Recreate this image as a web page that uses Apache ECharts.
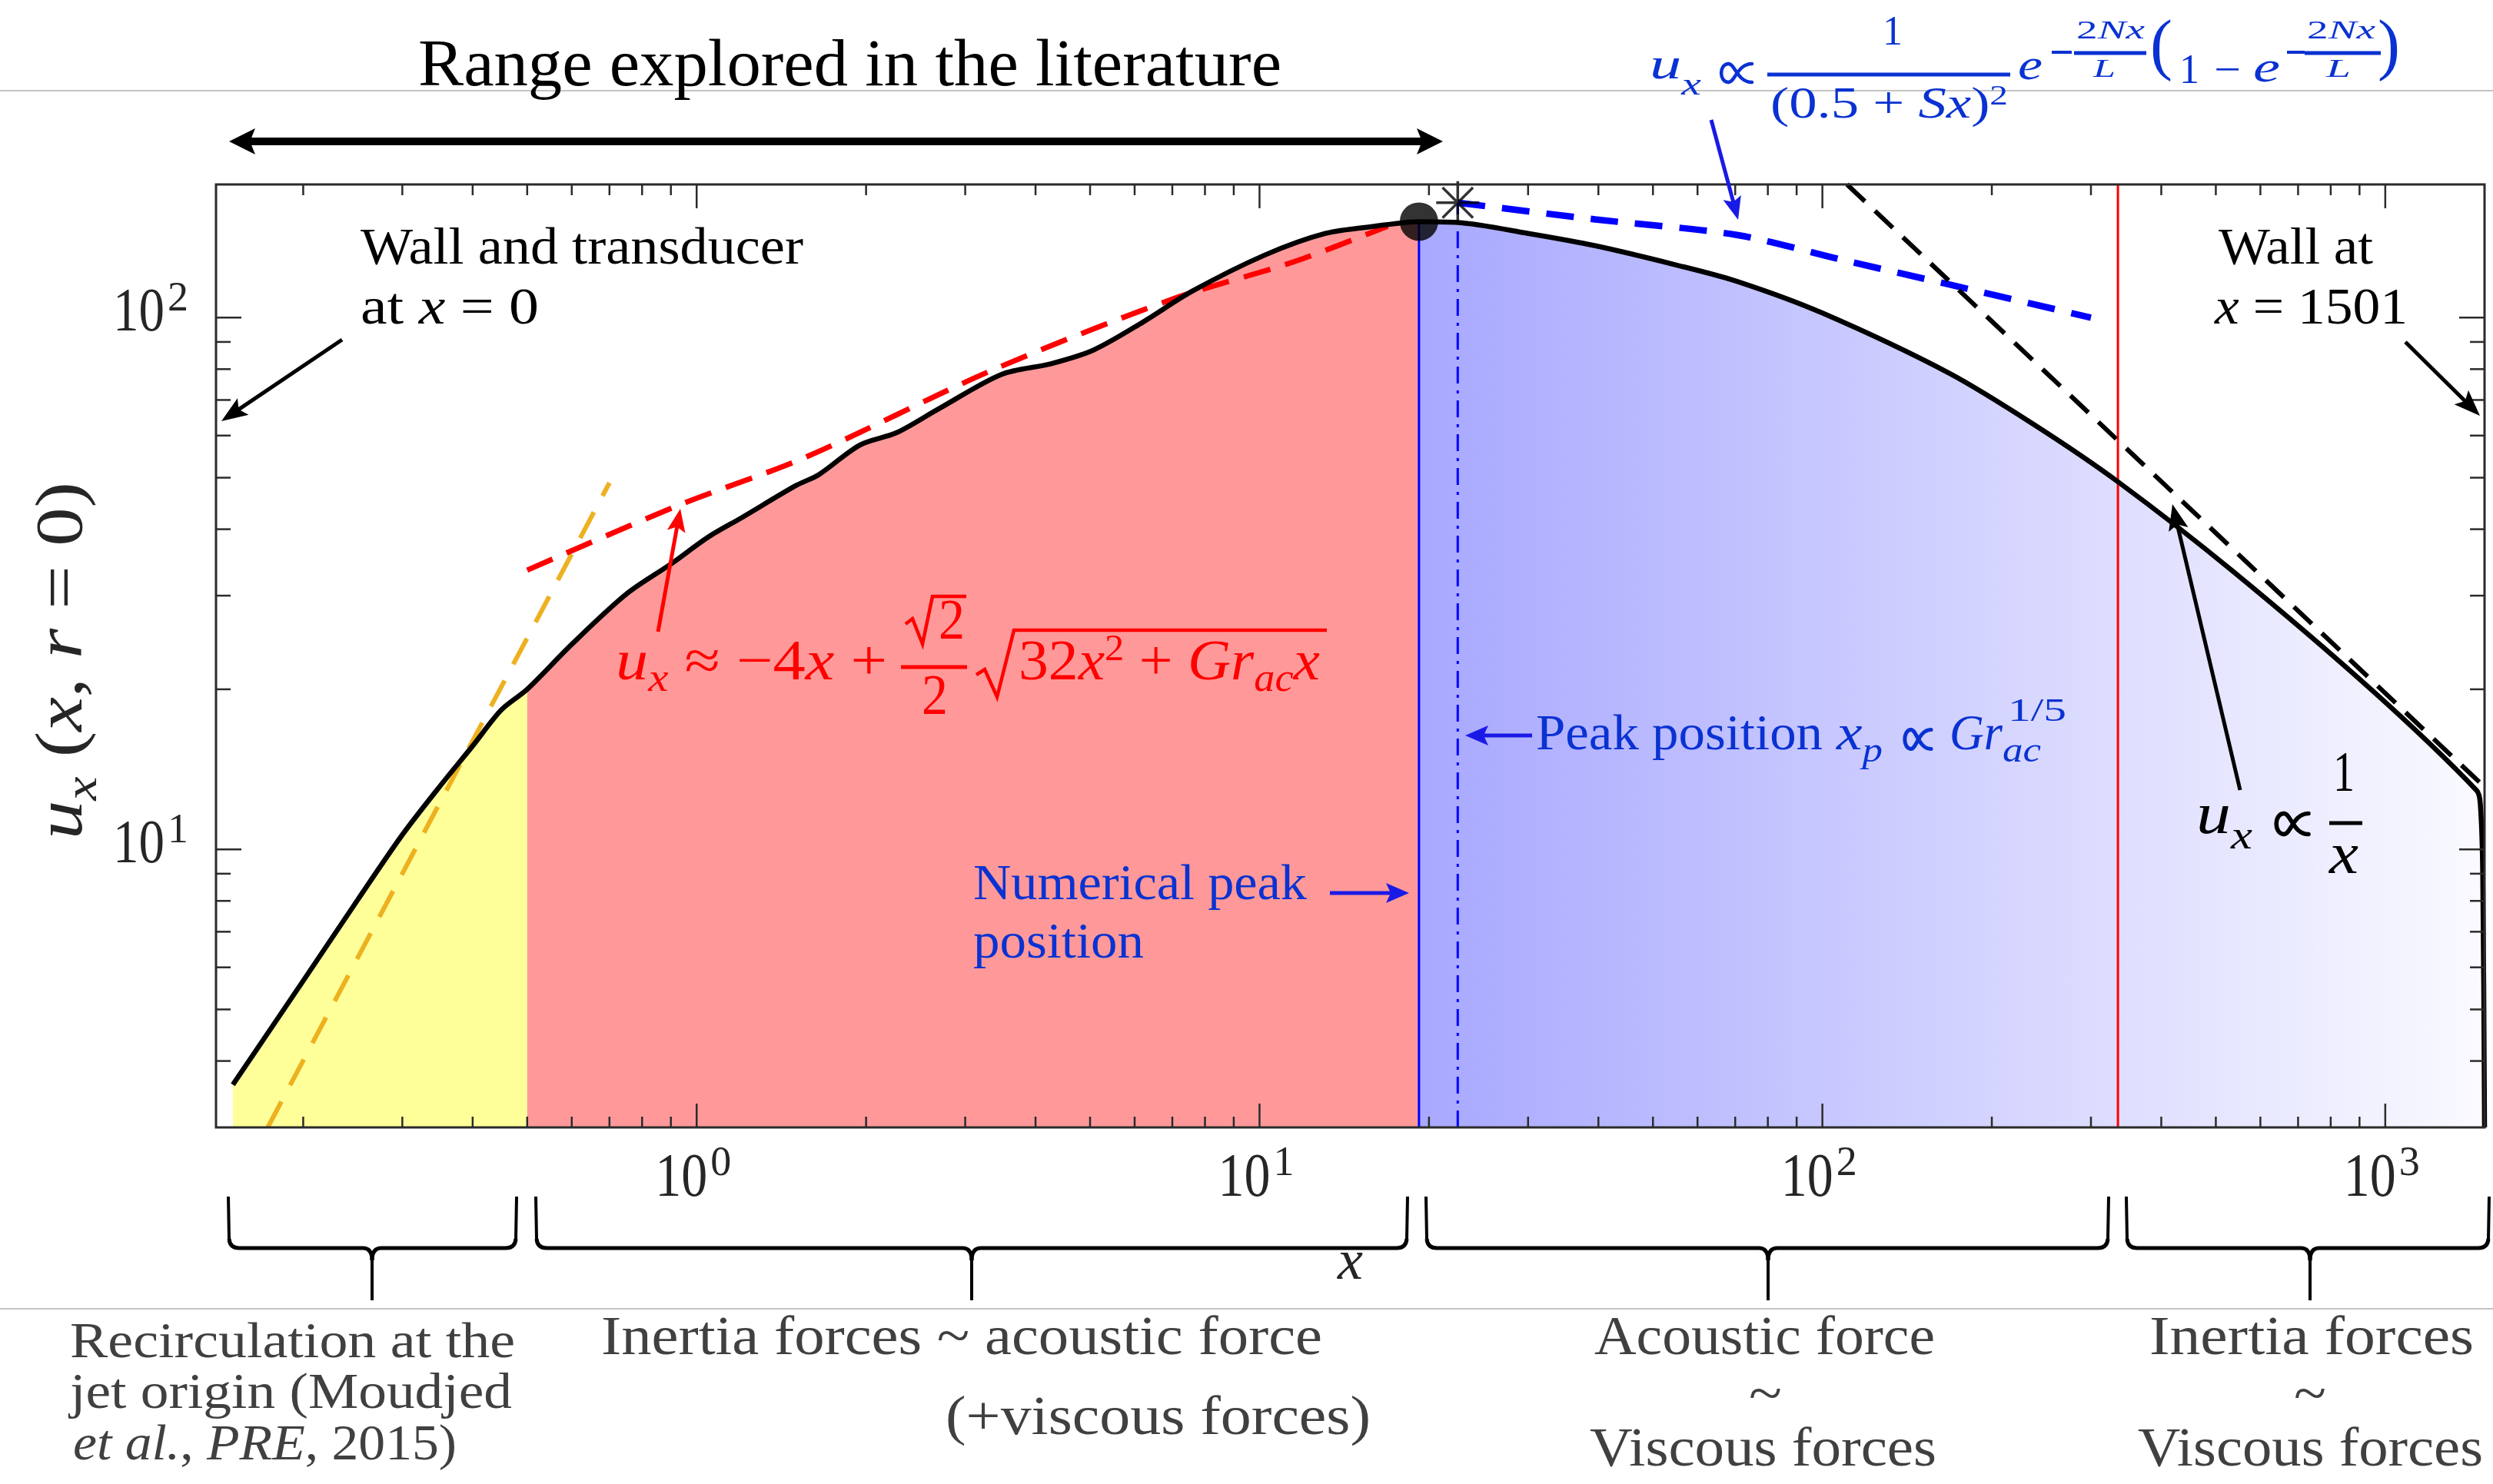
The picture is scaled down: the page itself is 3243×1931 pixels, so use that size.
<!DOCTYPE html>
<html><head><meta charset="utf-8">
<script src="https://cdn.jsdelivr.net/npm/echarts@6/dist/echarts.min.js"></script>
<style>html,body{margin:0;padding:0;background:#fff}#c{width:3243px;height:1931px}</style>
</head><body><div id="c"></div>
<script>
// ---------------- DATA ----------------
const curveX = [0.15, 0.2, 0.25, 0.3, 0.35, 0.4, 0.45, 0.5, 0.6, 0.75, 0.9, 1.05, 1.2, 1.5, 1.65, 1.95, 2.27, 2.7, 3.48, 4.26, 5.07, 6.2, 7.58, 10.2, 13.1, 16, 19.2, 22.5, 30, 39.5, 55, 70.5, 100, 168, 240, 337, 535, 953, 1454, 1475, 1490, 1501];
const curveY = [3.61, 5.66, 8.04, 10.65, 13.15, 15.65, 18.3, 20.0, 24.3, 30.2, 34.4, 38.7, 42.0, 48.3, 50.7, 57.6, 60.8, 67.5, 78.2, 81.9, 86.9, 98, 112, 131, 144, 148.5, 151.5, 151, 144, 136.5, 125.6, 117, 102, 78.6, 62.5, 48.9, 33.4, 19.8, 12.9, 12.2, 9.0, 3.0];
const regionBounds = [0.5, 19.2];

const redDashX = [0.5, 0.92, 1.56, 3.31, 7.0, 11.6, 16.9];
const redDashY = [33.5, 44.2, 54.6, 79.2, 108.3, 127.7, 148.6];
const orangeDashX = [0.173, 0.70];
const orangeDashY = [3.0, 48.9];
const blueDashX = [22.5, 39.5, 70.5, 108.8, 168, 300];
const blueDashY = [164.5, 153, 143, 128.3, 115.4, 100];
const invDashX = [110.6, 1501];
const invDashY = [178, 13.1];

const peakX = 19.2, peakY = 151.5;          // numerical peak (dot)
const predPeakX = 22.5, predPeakY = 164.5;  // predicted peak (star)
const redLineX = 335;

const X_MIN = 0.14, X_MAX = 1501, Y_MIN = 3, Y_MAX = 178;

const xMajorTicks = [1, 10, 100, 1000];
const xMajorLabels = [['10','0'],['10','1'],['10','2'],['10','3']];
const xMinorTicks = [0.2,0.3,0.4,0.5,0.6,0.7,0.8,0.9,2,3,4,5,6,7,8,9,20,30,40,50,60,70,80,90,200,300,400,500,600,700,800,900];
const yMajorTicks = [10, 100];
const yMajorLabels = [['10','1'],['10','2']];
const yMinorTicks = [4,5,6,7,8,9,20,30,40,50,60,70,80,90];

// ---------------- HELPERS ----------------
const FF = '"Liberation Serif", "DejaVu Serif", serif';
const cvs = document.createElement('canvas').getContext('2d');
function fnt(fs, it) { return (it ? 'italic ' : '') + fs.toFixed(1) + 'px ' + FF; }
function meas(t, fs, it) { cvs.font = fnt(fs, it); return cvs.measureText(t).width; }
function txt(t, x, base, fs, o) {
  o = o || {};
  const sy = o.sy || 1;
  return { type: 'text', x: x, y: base - 0.3375 * fs * sy, scaleX: o.sx || 1, scaleY: sy, z: 100, silent: true,
    style: { text: t, font: fnt(fs, o.it), fill: o.c || '#000', align: 'left', verticalAlign: 'middle' } };
}
// pieces: [text, italic, sizeFactor, baselineShiftEm]
function run(pieces, x0, x1, base, fs, o) {
  o = o || {};
  const ws = pieces.map(p => meas(p[0], fs * (p[2] || 1), p[1]));
  const W = ws.reduce((a, b) => a + b, 0);
  const k = (x1 != null) ? (x1 - x0) / W : 1;
  let acc = 0; const out = [];
  pieces.forEach((p, i) => {
    out.push(txt(p[0], x0 + acc * k, base + (p[3] || 0) * fs, fs * (p[2] || 1), { it: p[1], sx: k, sy: o.sy, c: o.c }));
    acc += ws[i];
  });
  return out;
}
// "proportional to" sign drawn with strokes
function prop(cx, cy, w, h, c, lw) {
  const st = { stroke: c, lineWidth: lw, fill: null, lineCap: 'round' };
  const bz = (p0, c1, c2, p1) => ({ type: 'bezierCurve', z: 100, silent: true,
    shape: { x1: cx + p0[0], y1: cy + p0[1], cpx1: cx + c1[0], cpy1: cy + c1[1], cpx2: cx + c2[0], cpy2: cy + c2[1], x2: cx + p1[0], y2: cy + p1[1] }, style: st });
  const a = w / 2, b = h / 2;
  return [
    bz([a, -b], [a * 0.1, -b], [-a * 0.05, b], [-a * 0.45, b]),
    bz([-a * 0.45, b], [-a * 1.05, b], [-a * 1.05, -b], [-a * 0.45, -b]),
    bz([-a * 0.45, -b], [-a * 0.05, -b], [a * 0.1, b], [a, b])
  ];
}
function ln(x1, y1, x2, y2, c, w, dash) {
  return { type: 'line', z: 100, silent: true, shape: { x1, y1, x2, y2 }, style: { stroke: c, lineWidth: w, lineDash: dash || null } };
}
function pl(points, c, w) {
  return { type: 'polyline', z: 100, silent: true, shape: { points }, style: { stroke: c, lineWidth: w, fill: null, lineJoin: 'miter' } };
}
function head(x1, y1, x2, y2, c, hl, hw) {
  const dx = x2 - x1, dy = y2 - y1, L = Math.hypot(dx, dy), ux = dx / L, uy = dy / L;
  const bx = x2 - ux * hl, by = y2 - uy * hl;
  return { type: 'polygon', z: 101, silent: true, shape: { points: [[x2, y2], [bx - uy * hw, by + ux * hw], [bx + ux * hl * 0.2, by + uy * hl * 0.2], [bx + uy * hw, by - ux * hw]] }, style: { fill: c } };
}
function arrow(x1, y1, x2, y2, c, w, hl, hw) {
  const dx = x2 - x1, dy = y2 - y1, L = Math.hypot(dx, dy), ux = dx / L, uy = dy / L;
  return [ln(x1, y1, x2 - ux * hl * 0.7, y2 - uy * hl * 0.7, c, w), head(x1, y1, x2, y2, c, hl, hw)];
}
function brace(xL, xR, xm, y0, y1, y2, c, w) {
  const r = 12;
  const st = { stroke: c, lineWidth: w, fill: null };
  const bz = (a, b, cx, cy, d, e) => ({ type: 'bezierCurve', z: 100, silent: true, shape: { x1: a, y1: b, cpx1: cx, cpy1: cy, x2: d, y2: e }, style: st });
  return [
    ln(xL, y0, xL + 1, y1 - r, c, w - 1),
    bz(xL + 1, y1 - r, xL + 2, y1, xL + r + 2, y1),
    ln(xL + r + 2, y1, xm - r, y1, c, w),
    bz(xm - r, y1, xm, y1, xm, y1 + r + 4),
    bz(xm + r, y1, xm, y1, xm, y1 + r + 4),
    ln(xm, y1 + r + 4, xm, y2, c, w - 1),
    ln(xm + r, y1, xR - r - 2, y1, c, w),
    bz(xR - r - 2, y1, xR - 2, y1, xR - 1, y1 - r),
    ln(xR - 1, y1 - r, xR, y0, c, w - 1)
  ];
}

// ---------------- SERIES DATA ----------------
const pts = curveX.map((x, i) => [x, curveY[i]]);
const yellowPts = pts.filter(p => p[0] <= regionBounds[0]);
const redPts = pts.filter(p => p[0] >= regionBounds[0] && p[0] <= regionBounds[1]);
const bluePts = pts.filter(p => p[0] >= regionBounds[1]);
const zip = (a, b) => a.map((v, i) => [v, b[i]]);

const SM = 0.3;
const TICK = '#2b2b2b';
const RED = '#ff0000', BLUE = '#0000ff', BLUET = '#0a32d2', BLUEA = '#1a1ae6';

const xTickData = xMajorTicks.map((v, i) => [v, Y_MIN, 1, i]).concat(xMinorTicks.map(v => [v, Y_MIN, 0, -1]));
const yTickData = yMajorTicks.map((v, i) => [X_MIN, v, 1, i]).concat(yMinorTicks.map(v => [X_MIN, v, 0, -1]));

const series = [
  { type: 'line', data: yellowPts, symbol: 'none', smooth: SM, lineStyle: { opacity: 0 }, areaStyle: { color: '#ffff99', opacity: 1, origin: 'start' }, z: 1, silent: true },
  { type: 'line', data: redPts, symbol: 'none', smooth: SM, lineStyle: { opacity: 0 }, areaStyle: { color: '#ff9999', opacity: 1, origin: 'start' }, z: 1, silent: true },
  { type: 'line', data: bluePts, symbol: 'none', smooth: SM, lineStyle: { opacity: 0 },
    areaStyle: { opacity: 1, origin: 'start', color: new echarts.graphic.LinearGradient(0, 0, 1, 0, [{ offset: 0, color: '#a8a8ff' }, { offset: 1, color: '#fafaff' }]) }, z: 1, silent: true },
  { type: 'line', data: [[peakX, Y_MIN], [peakX, peakY]], symbol: 'none', lineStyle: { color: BLUE, width: 3 }, z: 2, silent: true },
  { type: 'line', data: [[predPeakX, Y_MIN], [predPeakX, predPeakY]], symbol: 'none', lineStyle: { color: BLUE, width: 3, type: [22, 9, 4, 9] }, z: 2, silent: true },
  { type: 'line', data: [[redLineX, Y_MIN], [redLineX, Y_MAX]], symbol: 'none', lineStyle: { color: RED, width: 3 }, z: 2, silent: true },
  { type: 'line', data: zip(orangeDashX, orangeDashY), symbol: 'none', lineStyle: { color: '#edb120', width: 6, type: [38, 24] }, z: 3, silent: true },
  { type: 'line', data: zip(redDashX, redDashY), symbol: 'none', smooth: 0.3, lineStyle: { color: RED, width: 7, type: [36, 20] }, z: 3, silent: true },
  { type: 'line', data: zip(blueDashX, blueDashY), symbol: 'none', smooth: 0.3, lineStyle: { color: BLUE, width: 8.5, type: [36, 22] }, z: 3, silent: true },
  { type: 'line', data: zip(invDashX, invDashY), symbol: 'none', lineStyle: { color: '#000', width: 6, type: [32, 18] }, z: 3, silent: true },
  { type: 'line', data: pts, symbol: 'none', smooth: SM, lineStyle: { color: '#000', width: 6.5 }, z: 4, silent: true },
  { type: 'scatter', data: [[peakX, peakY]], symbolSize: 50, itemStyle: { color: '#000' }, z: 5, silent: true },
  { type: 'scatter', data: [[predPeakX, predPeakY]], symbol: 'path://M0,-10L0,10M-10,0L10,0M-7.07,-7.07L7.07,7.07M-7.07,7.07L7.07,-7.07', symbolSize: 56,
    itemStyle: { color: 'none', borderColor: '#000', borderWidth: 3.5 }, z: 5, silent: true },
  { type: 'custom', data: xTickData, z: 6, silent: true, clip: false,
    renderItem: function (params, api) {
      const v = api.value(0), major = api.value(2), li = api.value(3);
      const b = api.coord([v, Y_MIN]), t = api.coord([v, Y_MAX]);
      const L = major ? 31 : 14;
      const ch = [
        { type: 'line', shape: { x1: b[0], y1: b[1], x2: b[0], y2: b[1] - L }, style: { stroke: TICK, lineWidth: 2.5 } },
        { type: 'line', shape: { x1: t[0], y1: t[1], x2: t[0], y2: t[1] + L }, style: { stroke: TICK, lineWidth: 2.5 } }
      ];
      if (major) {
        const lab = xMajorLabels[li];
        run([[lab[0], 0]], b[0] - 54, b[0] + 14, b[1] + 95, 80, { c: '#262626' }).forEach(e => ch.push(e));
        ch.push(txt(lab[1], b[0] + 18, b[1] + 66, 54, { c: '#262626' }));
      }
      return { type: 'group', children: ch };
    } },
  { type: 'custom', data: yTickData, z: 6, silent: true, clip: false,
    renderItem: function (params, api) {
      const v = api.value(1), major = api.value(2), li = api.value(3);
      const l = api.coord([X_MIN, v]), r = api.coord([X_MAX, v]);
      const L = major ? 33 : 19;
      const ch = [
        { type: 'line', shape: { x1: l[0], y1: l[1], x2: l[0] + L, y2: l[1] }, style: { stroke: TICK, lineWidth: 2.5 } },
        { type: 'line', shape: { x1: r[0], y1: r[1], x2: r[0] - L, y2: r[1] }, style: { stroke: TICK, lineWidth: 2.5 } }
      ];
      if (major) {
        const lab = yMajorLabels[li];
        run([[lab[0], 0]], l[0] - 134, l[0] - 67, l[1] + 23, 80, { c: '#262626' }).forEach(e => ch.push(e));
        ch.push(txt(lab[1], l[0] - 63, l[1] - 5, 54, { c: '#262626' }));
      }
      return { type: 'group', children: ch };
    } }
];

// ---------------- ANNOTATIONS ----------------
let G = [];
const add = a => { G = G.concat(a); };
// slide separator lines
add(ln(0, 118, 3243, 118, '#c4c4c4', 2));
add(ln(0, 1703, 3243, 1703, '#c4c4c4', 2));
// plot frame
add({ type: 'rect', z: 99, silent: true, shape: { x: 281, y: 240, width: 2951, height: 1227 }, style: { fill: null, stroke: TICK, lineWidth: 3 } });
// title + double arrow
add(run([['Range explored in the literature', 0]], 544, 1667, 117, 86));
add(ln(320, 184, 1855, 184, '#000', 10));
add(head(1877, 184, 298, 184, '#000', 34, 17));
add(head(298, 184, 1877, 184, '#000', 34, 17));
// walls
add(run([['Wall and transducer', 0]], 469, 1045, 348, 68));
add(run([['at ', 0], ['x', 1], [' = 0', 0]], 469, 701, 426, 68));
add(arrow(445, 442, 288, 548, '#000', 5, 34, 13));
add(run([['Wall at', 0]], 2886, 3087, 348, 68));
add(run([['x', 1], [' = 1501', 0]], 2881, 3132, 426, 68));
add(arrow(3129, 445, 3226, 541, '#000', 5, 34, 13));
// red formula
add(run([['u', 1], ['x', 1, 0.7, 0.18], [' \u2248 \u22124', 0], ['x', 1], [' +', 0]], 801, 1154, 890, 74, { c: RED }));
add(pl([[1178, 812], [1187, 805], [1200, 838], [1213, 776], [1257, 776]], RED, 4.5));
add(run([['2', 0]], 1221, 1255, 837, 74, { c: RED }));
add(ln(1172, 868, 1258, 868, RED, 5));
add(run([['2', 0]], 1199, 1233, 935, 74, { c: RED }));
add(pl([[1270, 878], [1281, 871], [1297, 907], [1319, 820], [1726, 820]], RED, 4.5));
add(run([['32', 0], ['x', 1], ['2', 0, 0.65, -0.375], [' + ', 0], ['Gr', 1], ['ac', 1, 0.7, 0.18], ['x', 1]], 1325, 1717, 890, 74, { c: RED }));
add(arrow(856, 822, 885, 662, RED, 5, 30, 12));
// blue formula (top)
add(run([['u', 1], ['x', 1, 0.7, 0.35]], 2146, 2213, 106, 56, { c: BLUET }));
add(prop(2258, 95, 42, 24, BLUET, 4.5));
add(run([['1', 0]], 2449, 2475, 62, 54, { c: BLUET }));
add(ln(2299, 97, 2615, 97, BLUET, 5));
add(run([['(0.5 + ', 0], ['Sx', 1], [')', 0], ['2', 0, 0.65, -0.33]], 2303, 2612, 157, 56, { c: BLUET }));
add(run([['e', 1]], 2625, 2657, 107, 56, { c: BLUET }));
add(ln(2669, 68, 2695, 68, BLUET, 4));
add(run([['2', 0], ['Nx', 1]], 2701, 2790, 53, 34, { c: BLUET }));
add(ln(2698, 69, 2792, 69, BLUET, 5));
add(run([['L', 1]], 2723, 2752, 103, 34, { c: BLUET }));
add(run([['(', 0]], 2797, 2826, 94, 54, { c: BLUET, sy: 1.66 }));
add(run([['1', 0]], 2835, 2861, 112, 54, { c: BLUET }));
add(run([['\u2212', 0]], 2880, 2915, 112, 54, { c: BLUET }));
add(run([['e', 1]], 2931, 2966, 110, 56, { c: BLUET }));
add(ln(2975, 68, 2998, 68, BLUET, 4));
add(run([['2', 0], ['Nx', 1]], 3001, 3090, 53, 34, { c: BLUET }));
add(ln(2998, 69, 3097, 69, BLUET, 5));
add(run([['L', 1]], 3026, 3058, 103, 34, { c: BLUET }));
add(run([[')', 0]], 3093, 3122, 94, 54, { c: BLUET, sy: 1.66 }));
add(arrow(2226, 156, 2261, 286, BLUEA, 5, 30, 12));
// peak position
add(run([['Peak position', 0]], 1998, 2371, 980, 66, { c: BLUET }));
add(run([['x', 1], ['p', 1, 0.7, 0.22]], 2389, 2449, 980, 66, { c: BLUET }));
add(prop(2494, 962, 36, 25, BLUET, 5));
add(run([['Gr', 1]], 2536, 2605, 980, 66, { c: BLUET }));
add(run([['ac', 1]], 2605, 2655, 994, 46, { c: BLUET }));
add(run([['1/5', 0]], 2612, 2688, 941, 42, { c: BLUET }));
add(arrow(1993, 957, 1906, 957, BLUEA, 5, 30, 13));
// numerical peak
add(run([['Numerical peak', 0]], 1266, 1700, 1175, 66, { c: BLUET }));
add(run([['position', 0]], 1266, 1488, 1251, 66, { c: BLUET }));
add(arrow(1730, 1162, 1833, 1162, BLUEA, 5, 30, 13));
// u ~ 1/x
add(run([['u', 1], ['x', 1, 0.7, 0.23]], 2857, 2930, 1090, 76));
add(prop(2981, 1072, 44, 27, '#000', 5.5));
add(run([['1', 0]], 3035, 3063, 1035, 74));
add(ln(3030, 1071, 3073, 1071, '#000', 5));
add(run([['x', 1]], 3030, 3068, 1142, 76));
add(arrow(2914, 1028, 2826, 656, '#000', 5, 34, 13));
// axis titles
add(run([['x', 1]], 1740, 1773, 1670, 75, { c: '#262626' }));
add({ type: 'group', x: 112, y: 1092, rotation: Math.PI / 2, z: 100, silent: true,
  children: run([['u', 1], ['x', 1, 0.7, 0.2], [' (', 0], ['x', 1], [', ', 0], ['r', 1], [' = 0)', 0]], 0, 465, 0, 86, { c: '#262626' }) });
// braces
add(brace(297, 672, 484, 1557, 1624, 1692, '#000', 5));
add(brace(697, 1831, 1264, 1557, 1624, 1692, '#000', 5));
add(brace(1855, 2743, 2300, 1557, 1624, 1692, '#000', 5));
add(brace(2766, 3238, 3005, 1557, 1624, 1692, '#000', 5));
// bottom texts
const GR = '#404040';
add(run([['Recirculation at the', 0]], 91, 670, 1771, 66, { c: GR }));
add(run([['jet origin (Moudjed', 0]], 91, 666, 1837, 66, { c: GR }));
add(run([['et al.', 1], [', ', 0], ['PRE', 1], [', 2015)', 0]], 95, 594, 1904, 66, { c: GR }));
add(run([['Inertia forces ~ acoustic force', 0]], 782, 1720, 1767, 72, { c: GR }));
add(run([['(+viscous forces)', 0]], 1230, 1783, 1871, 72, { c: GR }));
add(run([['Acoustic force', 0]], 2074, 2517, 1767, 72, { c: GR }));
add(run([['~', 0]], 2275, 2318, 1842, 72, { c: GR }));
add(run([['Viscous forces', 0]], 2068, 2519, 1912, 72, { c: GR }));
add(run([['Inertia forces', 0]], 2796, 3218, 1767, 72, { c: GR }));
add(run([['~', 0]], 2984, 3026, 1842, 72, { c: GR }));
add(run([['Viscous forces', 0]], 2781, 3230, 1912, 72, { c: GR }));

// ---------------- CHART ----------------
const chart = echarts.init(document.getElementById('c'), null, { renderer: 'canvas' });
const hidden = { axisLine: { show: false }, axisTick: { show: false }, axisLabel: { show: false }, splitLine: { show: false } };
chart.setOption({
  animation: false,
  backgroundColor: '#ffffff',
  grid: { left: 281, top: 240, right: 11, bottom: 464, containLabel: false },
  xAxis: Object.assign({ type: 'log', logBase: 10, min: X_MIN, max: X_MAX }, hidden),
  yAxis: Object.assign({ type: 'log', logBase: 10, min: Y_MIN, max: Y_MAX }, hidden),
  series: series,
  graphic: { elements: G }
});
</script>
</body></html>
